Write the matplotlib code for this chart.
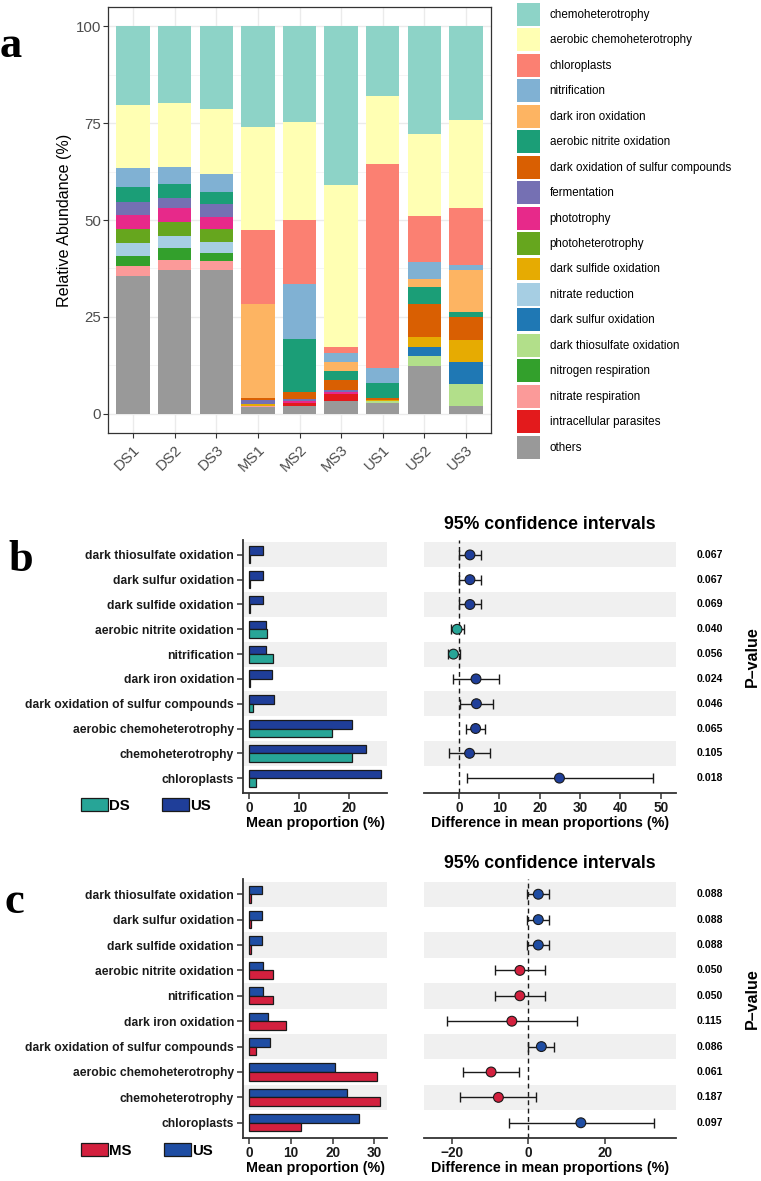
import numpy as np
import matplotlib
matplotlib.use("Agg")
import matplotlib.pyplot as plt
from matplotlib.patches import Patch

# -----------------------------
# Data
# -----------------------------
samples = ['DS1', 'DS2', 'DS3', 'MS1', 'MS2', 'MS3', 'US1', 'US2', 'US3']

functions = ['chemoheterotrophy', 'aerobic chemoheterotrophy', 'chloroplasts',
             'nitrification', 'dark iron oxidation', 'aerobic nitrite oxidation',
             'dark oxidation of sulfur compounds', 'fermentation', 'phototrophy',
             'photoheterotrophy', 'dark sulfide oxidation', 'nitrate reduction',
             'dark sulfur oxidation', 'dark thiosulfate oxidation',
             'nitrogen respiration', 'nitrate respiration',
             'intracellular parasites', 'others']

func_colors = ['#8DD3C7', '#FFFFB3', '#FB8072', '#80B1D3', '#FDB462', '#1B9E77',
               '#D95F02', '#7570B3', '#E7298A', '#66A61E', '#E6AB02', '#A6CEE3',
               '#1F78B4', '#B2DF8A', '#33A02C', '#FB9A99', '#E31A1C', '#999999']

# relative abundance (%) per sample, same order as samples
chemoheterotrophy      = [20.3, 19.8, 21.4, 25.9, 24.6, 40.9, 18.1, 27.7, 24.1]
aerobic_chemohet       = [16.2, 16.4, 16.8, 26.7, 25.4, 41.9, 17.5, 21.3, 22.9]
chloroplasts           = [0.0, 0.0, 0.0, 19.0, 16.5, 1.5, 52.5, 11.9, 14.5]
nitrification          = [5.1, 4.5, 4.5, 0.0, 14.1, 2.3, 4.0, 4.4, 1.3]
dark_iron_oxidation    = [0.0, 0.0, 0.0, 24.3, 0.0, 2.5, 0.0, 2.1, 10.9]
aerobic_nitrite_ox     = [3.8, 3.5, 3.2, 0.0, 13.8, 2.3, 3.9, 4.3, 1.3]
dark_ox_sulfur_comp    = [0.0, 0.0, 0.0, 0.7, 1.7, 2.6, 0.4, 8.6, 5.9]
fermentation           = [3.3, 2.6, 3.2, 0.9, 0.6, 0.5, 0.0, 0.0, 0.0]
phototrophy            = [3.5, 3.6, 3.3, 0.0, 0.5, 0.5, 0.0, 0.0, 0.0]
photoheterotrophy      = [3.8, 3.7, 3.4, 0.0, 0.0, 0.0, 0.0, 0.0, 0.0]
dark_sulfide_ox        = [0.0, 0.0, 0.0, 0.5, 0.0, 0.0, 0.3, 2.5, 5.7]
nitrate_reduction      = [3.2, 3.1, 2.6, 0.0, 0.0, 0.0, 0.0, 0.0, 0.0]
dark_sulfur_ox         = [0.0, 0.0, 0.0, 0.0, 0.0, 0.0, 0.0, 2.4, 5.8]
dark_thiosulfate_ox    = [0.0, 0.0, 0.0, 0.0, 0.0, 0.0, 0.5, 2.5, 5.7]
nitrogen_respiration   = [2.6, 3.0, 2.2, 0.0, 0.0, 0.0, 0.0, 0.0, 0.0]
nitrate_respiration    = [2.7, 2.7, 2.2, 0.3, 0.0, 0.0, 0.0, 0.0, 0.0]
intracellular_paras    = [0.0, 0.0, 0.0, 0.0, 0.9, 1.8, 0.0, 0.0, 0.0]
others                 = [35.5, 37.1, 37.2, 1.7, 1.9, 3.2, 2.8, 12.3, 1.9]

abundance = [chemoheterotrophy, aerobic_chemohet, chloroplasts, nitrification,
             dark_iron_oxidation, aerobic_nitrite_ox, dark_ox_sulfur_comp,
             fermentation, phototrophy, photoheterotrophy, dark_sulfide_ox,
             nitrate_reduction, dark_sulfur_ox, dark_thiosulfate_ox,
             nitrogen_respiration, nitrate_respiration, intracellular_paras, others]

# panels b / c: functions compared (top to bottom)
stamp_functions = ['dark thiosulfate oxidation', 'dark sulfur oxidation',
                   'dark sulfide oxidation', 'aerobic nitrite oxidation',
                   'nitrification', 'dark iron oxidation',
                   'dark oxidation of sulfur compounds', 'aerobic chemoheterotrophy',
                   'chemoheterotrophy', 'chloroplasts']

# b: DS vs US
b_ds_mean = [0.05, 0.05, 0.05, 3.6, 4.7, 0.05, 0.7, 16.5, 20.6, 1.3]
b_us_mean = [2.8, 2.8, 2.8, 3.3, 3.3, 4.5, 5.0, 20.6, 23.3, 26.3]
b_diff = [2.7, 2.7, 2.7, -0.5, -1.4, 4.2, 4.3, 4.1, 2.6, 24.9]
b_low = [0.0, 0.0, 0.0, -2.1, -2.8, -1.4, 0.25, 1.7, -2.4, 1.9]
b_high = [5.5, 5.5, 5.5, 1.1, 0.2, 9.9, 8.5, 6.5, 7.7, 48.0]
b_pvalues = ['0.067', '0.067', '0.069', '0.040', '0.056', '0.024', '0.046',
             '0.065', '0.105', '0.018']

# c: MS vs US
c_ms_mean = [0.3, 0.3, 0.3, 5.6, 5.6, 8.9, 1.7, 30.5, 31.4, 12.4]
c_us_mean = [3.0, 3.0, 3.0, 3.4, 3.4, 4.4, 5.0, 20.6, 23.4, 26.3]
c_diff = [2.6, 2.6, 2.6, -2.2, -2.2, -4.3, 3.4, -9.7, -7.8, 13.7]
c_low = [-0.4, -0.4, -0.4, -8.6, -8.6, -21.3, 0.0, -17.1, -17.8, -5.0]
c_high = [5.5, 5.5, 5.5, 4.3, 4.3, 12.6, 6.8, -2.4, 2.0, 32.8]
c_pvalues = ['0.088', '0.088', '0.088', '0.050', '0.050', '0.115', '0.086',
             '0.061', '0.187', '0.097']

DS_COLOR = '#27A597'
US_COLOR_B = '#1F3E99'
US_COLOR_C = '#1F4DA3'
MS_COLOR = '#D3203E'

# -----------------------------
# Figure setup
# -----------------------------
W, H = 761, 1181
plt.rcParams['font.family'] = ['Liberation Sans', 'DejaVu Sans']
fig = plt.figure(figsize=(W / 100, H / 100), dpi=100)


def box(l, t, r, b):
    return [l / W, 1 - b / H, (r - l) / W, (b - t) / H]


# -----------------------------
# Panel a: stacked bars
# -----------------------------
ax = fig.add_axes(box(108, 7, 491, 433))
x = np.arange(1, len(samples) + 1)
bottom = np.zeros(len(samples))
for name, col, vals in reversed(list(zip(functions, func_colors, abundance))):
    ax.bar(x, vals, width=0.8, bottom=bottom, color=col, linewidth=0, zorder=3)
    bottom += np.array(vals)
handles = [Patch(facecolor=c, edgecolor='white', linewidth=0) for c in func_colors]

ax.set_xlim(0.4, 9.6)
ax.set_ylim(-5, 105)
ax.set_yticks([0, 25, 50, 75, 100])
ax.set_yticks([12.5, 37.5, 62.5, 87.5], minor=True)
ax.set_xticks(x)
ax.set_xticklabels(samples, rotation=45, ha='right', rotation_mode='anchor')
ax.grid(which='major', color='#EBEBEB', linewidth=1.0, zorder=0)
ax.grid(which='minor', axis='y', color='#F3F3F3', linewidth=0.6, zorder=0)
ax.tick_params(axis='both', which='major', colors='#333333', labelcolor='#4D4D4D',
               labelsize=10.8, length=3.5, width=0.8)
ax.tick_params(axis='y', which='major', pad=1.5)
ax.tick_params(axis='y', which='minor', length=0)
for s in ax.spines.values():
    s.set_color('#333333')
    s.set_linewidth(0.9)
ax.set_ylabel('Relative Abundance (%)', fontsize=11.6, labelpad=3)

fig.legend(handles, functions, loc='upper left', bbox_to_anchor=(517 / W, 1 - 3 / H),
           frameon=False, fontsize=8.4, handlelength=2.0, handleheight=2.65,
           labelspacing=0.214, handletextpad=0.8, borderpad=0, borderaxespad=0)

fig.text(11 / W, 1 - 57 / H, 'a', family='Liberation Serif', weight='bold',
         fontsize=32, ha='center', va='baseline')


# -----------------------------
# Panels b and c: extended error bar plots
# -----------------------------
def stamp_panel(top, bottom_px, grp_name, grp_mean, grp_color, us_mean, us_color,
                diff, low, high, pvalues, ci_xlim, ci_ticks, bar_xlim, bar_ticks,
                letter, letter_x, letter_y):
    n = len(stamp_functions)
    rows = np.arange(n)
    ax_bar = fig.add_axes(box(243, top, 387, bottom_px))
    ax_ci = fig.add_axes(box(424, top, 676, bottom_px))
    for a in (ax_bar, ax_ci):
        for i in rows[::2]:
            a.axhspan(i - 0.5, i + 0.5, color='#F0F0F0', linewidth=0, zorder=0)
        a.set_ylim(n - 0.4, -0.6)
        for s in a.spines.values():
            s.set_visible(False)
        a.spines['bottom'].set_visible(True)
        a.spines['bottom'].set_color('#333333')
        a.spines['bottom'].set_linewidth(1.3)
        a.tick_params(axis='x', colors='#333333', labelcolor='#1A1A1A', length=4,
                      width=1.1, labelsize=9.8, pad=1.5)

    # bars
    ax_bar.barh(rows - 0.17, us_mean, height=0.34, color=us_color, edgecolor='#1A1A1A',
                linewidth=0.9, zorder=3)
    ax_bar.barh(rows + 0.17, grp_mean, height=0.34, color=grp_color, edgecolor='#1A1A1A',
                linewidth=0.9, zorder=3)
    ax_bar.set_xlim(*bar_xlim)
    ax_bar.set_xticks(bar_ticks)
    ax_bar.set_xticklabels([str(t) for t in bar_ticks], fontweight='bold')
    ax_bar.spines['left'].set_visible(True)
    ax_bar.spines['left'].set_color('#333333')
    ax_bar.spines['left'].set_linewidth(1.3)
    ax_bar.set_yticks(rows)
    ax_bar.set_yticklabels(stamp_functions, fontweight='bold', fontsize=8.7)
    ax_bar.tick_params(axis='y', colors='#333333', labelcolor='#1A1A1A', length=4,
                       width=1.1, pad=2.5)
    ax_bar.set_xlabel('Mean proportion (%)', fontweight='bold', fontsize=10.3, labelpad=1)

    # confidence intervals
    point_colors = [us_color if d > 0 else grp_color for d in diff]
    diff_arr = np.array(diff)
    ax_ci.axvline(0, color='#1A1A1A', linestyle=(0, (3.5, 2.5)), linewidth=1.0, zorder=2)
    ax_ci.errorbar(diff_arr, rows, xerr=[diff_arr - np.array(low), np.array(high) - diff_arr],
                   fmt='none', ecolor='#1A1A1A', elinewidth=1.0, capsize=3.8,
                   capthick=1.0, zorder=3)
    ax_ci.scatter(diff_arr, rows, s=50, c=point_colors, edgecolors='#1A1A1A',
                  linewidths=0.8, zorder=4)
    ax_ci.set_xlim(*ci_xlim)
    ax_ci.set_xticks(ci_ticks)
    ax_ci.set_xticklabels([str(t).replace('-', '\u2212') for t in ci_ticks],
                          fontweight='bold')
    ax_ci.set_yticks([])
    ax_ci.set_xlabel('Difference in mean proportions (%)', fontweight='bold',
                     fontsize=10.3, labelpad=1)
    ax_ci.text(0.5, 1.06, '95% confidence intervals', transform=ax_ci.transAxes,
               ha='center', va='center', fontweight='bold', fontsize=12.7)
    for i, p in enumerate(pvalues):
        ax_ci.text((697 - 424) / (676 - 424), i, p, transform=ax_ci.get_yaxis_transform(),
                   ha='left', va='center', fontweight='bold', fontsize=7.6)
    ax_ci.text((752 - 424) / (676 - 424), 0.54, 'P\u2013value', transform=ax_ci.transAxes,
               rotation=90, ha='center', va='center', fontweight='bold', fontsize=11.5)

    # legend
    leg_handles = [Patch(facecolor=grp_color, edgecolor='#1A1A1A', linewidth=0.9),
                   Patch(facecolor=us_color, edgecolor='#1A1A1A', linewidth=0.9)]
    fig.legend(leg_handles, [grp_name, 'US'], loc='upper left', ncol=2,
               bbox_to_anchor=(81 / W, 1 - (bottom_px + 5) / H), frameon=False,
               prop={'weight': 'bold', 'size': 10.8}, handlelength=1.8,
               handleheight=1.0, handletextpad=0.1, columnspacing=2.1,
               borderpad=0, borderaxespad=0)

    fig.text(letter_x / W, 1 - letter_y / H, letter, family='Liberation Serif',
             weight='bold', fontsize=32, ha='center', va='baseline')


stamp_panel(540, 793, 'DS', b_ds_mean, DS_COLOR, b_us_mean, US_COLOR_B,
            b_diff, b_low, b_high, b_pvalues, (-8.7, 53.8), [0, 10, 20, 30, 40, 50],
            (-1.3, 27.6), [0, 10, 20], 'b', 21, 571)

stamp_panel(879, 1138, 'MS', c_ms_mean, MS_COLOR, c_us_mean, US_COLOR_C,
            c_diff, c_low, c_high, c_pvalues, (-27.2, 38.5), [-20, 0, 20],
            (-1.5, 33.0), [0, 10, 20, 30], 'c', 14, 913)

plt.savefig("out.png", dpi=100)
